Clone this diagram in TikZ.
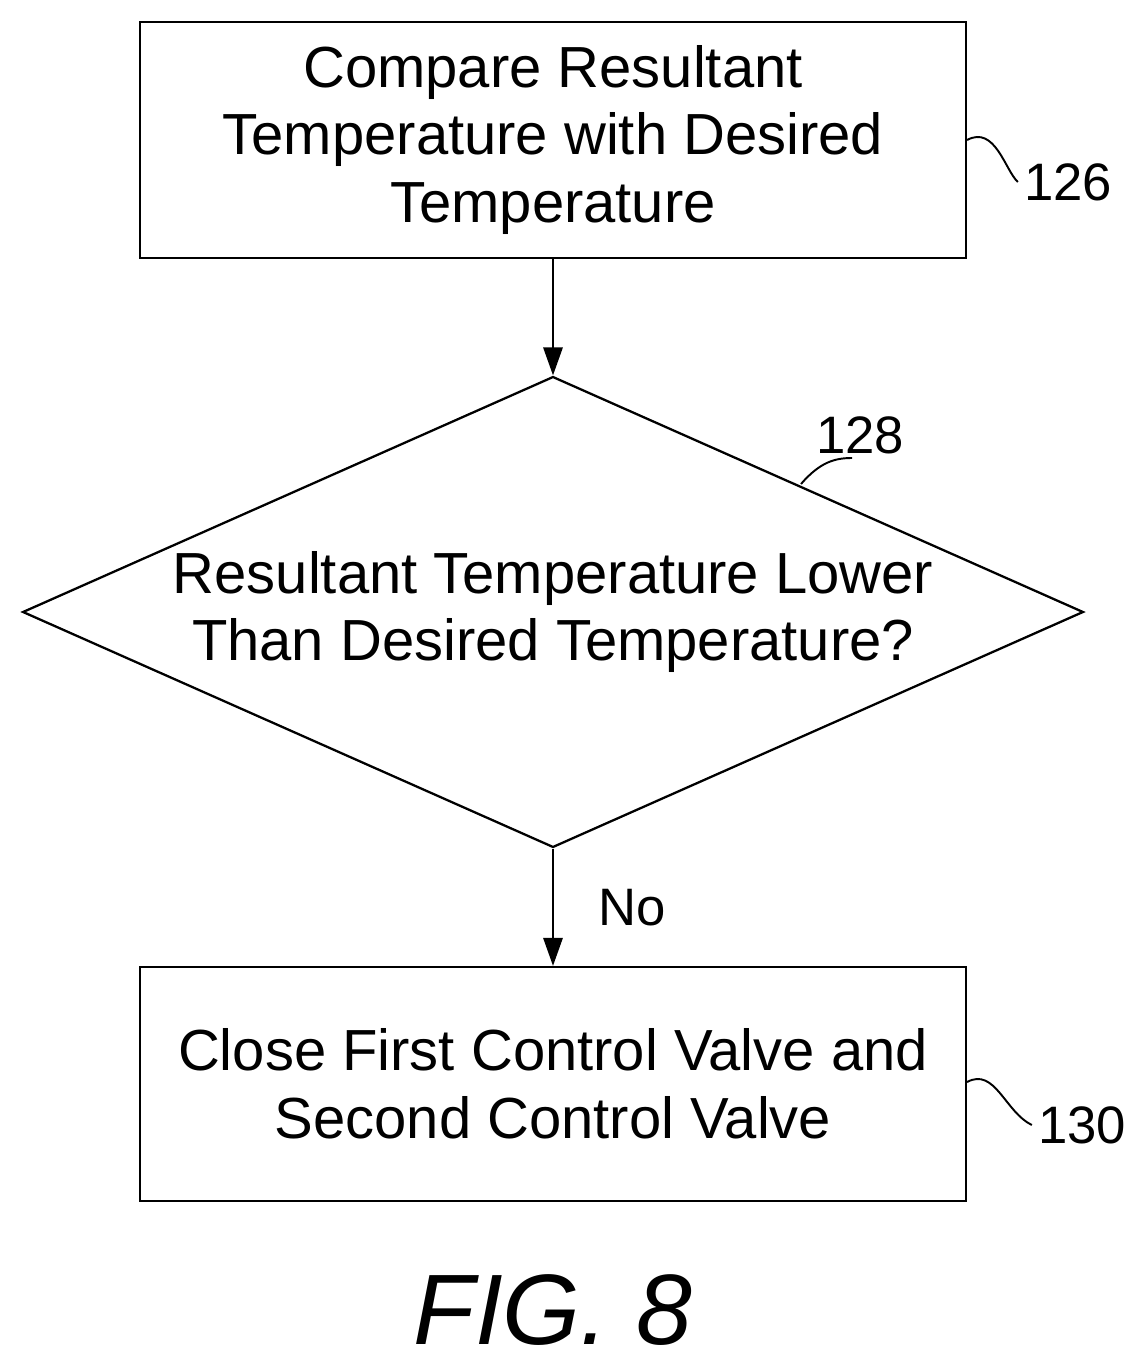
\documentclass[tikz,border=0pt]{standalone}
\usepackage{fontspec}
\setmainfont{Liberation Sans}
\usetikzlibrary{shapes.geometric,positioning,arrows.meta}
\tikzset{
  procbox/.style={draw, line width=1.3pt, minimum width=16.52cm, align=center,
    font=\fontsize{33}{38.5}\selectfont},
  test/.style={draw, diamond, line width=1.3pt, inner sep=0pt, aspect=2.25,
    minimum width=21.22cm, minimum height=9.42cm, align=center,
    font=\fontsize{33}{38.5}\selectfont},
  ref/.style={font=\fontsize{30}{36}\selectfont},
  flow/.style={->, line width=1.3pt, >={Triangle[length=16pt,width=11pt]}}
}
\begin{document}
\begin{tikzpicture}[x=0.02cm, y=-0.02cm]
  \useasboundingbox (0,0) rectangle (1148,1372);
  \node[procbox, minimum height=4.72cm] (cmp) at (553,140)
    {Compare Resultant\\Temperature with Desired\\Temperature};
  \node[test] (low) at (553,612)
    {Resultant Temperature Lower\\Than Desired Temperature?};
  \node[procbox, minimum height=4.68cm] (close) at (553,1084)
    {Close First Control Valve and\\Second Control Valve};
  \draw[flow] (cmp) -- (low);
  \draw[flow] (low) -- node[right=22pt, font=\fontsize{30}{36}\selectfont] {No} (close);
  % reference numerals
  \node[ref] (n126) at (1068,182) {126};
  \node[ref] (n128) at (860,435) {128};
  \node[ref] (n130) at (1082,1125) {130};
  \coordinate (c128) at (852,458);
  \draw[line width=1.1pt] (cmp.east |- 0,140) .. controls (995,125) and (1005,170) .. (n126.west);
  \draw[line width=1.1pt] (801,484) .. controls (820,462) and (835,458) .. (c128);
  \draw[line width=1.1pt] (close.east |- 0,1082) .. controls (995,1067) and (1005,1112) .. (n130.west);
  \node[font=\fontsize{57}{64}\selectfont\itshape] (fig) at (553,1310) {FIG. 8};
\end{tikzpicture}
\end{document}
